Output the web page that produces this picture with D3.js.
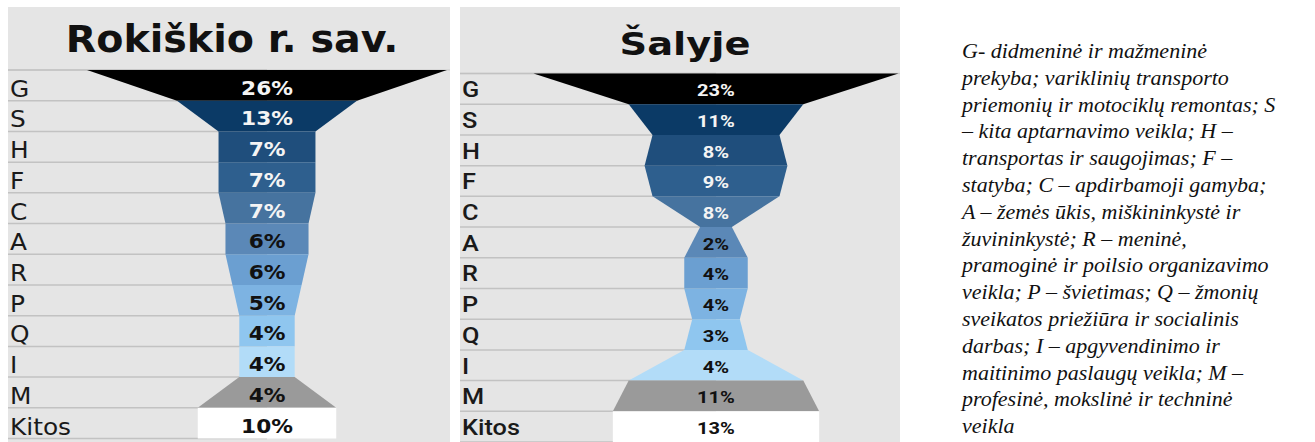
<!DOCTYPE html>
<html>
<head>
<meta charset="utf-8">
<script src="https://cdn.jsdelivr.net/npm/d3@7"></script>
<style>
  html, body { margin: 0; padding: 0; background: #fff; }
  svg { display: block; }
</style>
</head>
<body>
<svg id="chart" width="1315" height="442"></svg>
<script>

// sector codes, top to bottom
var categories = ["G", "S", "H", "F", "C", "A", "R", "P", "Q", "I", "M", "Kitos"];

// shares in %
var rokiskisValues = [26, 13, 7, 7, 7, 6, 6, 5, 4, 4, 4, 10];
var salyjeValues   = [23, 11, 8, 9, 8, 2, 4, 4, 3, 4, 11, 13];

var panelTitles = ["Rokiškio r. sav.", "Šalyje"];

// legend text, as it is wrapped in the picture
var legendLines = [
  "G- didmeninė ir mažmeninė",
  "prekyba; variklinių transporto",
  "priemonių ir motociklų remontas; S",
  "– kita aptarnavimo veikla; H –",
  "transportas ir saugojimas; F –",
  "statyba; C – apdirbamoji gamyba;",
  "A – žemės ūkis, miškininkystė ir",
  "žuvininkystė; R – meninė,",
  "pramoginė ir poilsio organizavimo",
  "veikla; P – švietimas; Q – žmonių",
  "sveikatos priežiūra ir socialinis",
  "darbas; I – apgyvendinimo ir",
  "maitinimo paslaugų veikla; M –",
  "profesinė, mokslinė ir techninė",
  "veikla"
];

var rowColors = ["#000000", "#0b3a66", "#1f4e7c", "#2e5f8e", "#46739f", "#5b88b7",
                 "#6b9fd1", "#7db3e2", "#8fc6ef", "#b2dcf8", "#9a9a9a", "#ffffff"];

var svg = d3.select("#chart");

function drawFunnel(cfg){
  var g = svg.append("g");
  var values = cfg.values;

  g.append("rect")
    .attr("x", cfg.x0).attr("y", 7)
    .attr("width", cfg.x1 - cfg.x0).attr("height", 442 - 7)
    .attr("fill", "#e5e5e5");

  var y = d3.scaleBand().domain(categories).range([cfg.top, cfg.bottom]).paddingInner(0);
  var w = d3.scaleLinear().domain([0, d3.max(values)]).range([0, cfg.maxW]);
  var rowH = y.bandwidth();

  // row rules, only up to the middle like the original
  var bounds = categories.map(function(c){ return y(c); }).concat([cfg.bottom]);
  g.append("line")
    .attr("x1", cfg.x0).attr("x2", cfg.x1)
    .attr("y1", cfg.top).attr("y2", cfg.top)
    .attr("stroke", "#d2d2d2").attr("stroke-width", 1.5);
  g.selectAll("line.rule").data(bounds).enter()
    .append("line")
    .attr("class", "rule")
    .attr("x1", cfg.x0).attr("x2", cfg.cx)
    .attr("y1", function(d){ return d; }).attr("y2", function(d){ return d; })
    .attr("stroke", "#c2c2c2").attr("stroke-width", 1.5);

  // each row: top width = own value, bottom width = next value
  g.selectAll("polygon.seg").data(values).enter()
    .append("polygon")
    .attr("class", "seg")
    .attr("fill", function(d, i){ return rowColors[i]; })
    .attr("points", function(d, i){
      var t = y(categories[i]), b = t + rowH;
      var wt = w(d) / 2;
      var wb = (i < values.length - 1 ? w(values[i + 1]) : w(d)) / 2;
      return [[cfg.cx - wt, t], [cfg.cx + wt, t], [cfg.cx + wb, b], [cfg.cx - wb, b]].join(" ");
    });

  g.selectAll("text.cat").data(categories).enter()
    .append("text")
    .attr("class", "cat")
    .attr("transform", function(d){
      return "translate(" + (cfg.x0 + cfg.labelDx) + "," + (y(d) + rowH - cfg.labelUp) + ") scale(" + cfg.sx + ",1)";
    })
    .attr("font-family", cfg.labelFont)
    .attr("font-weight", cfg.labelWeight)
    .attr("font-size", cfg.labelSize)
    .attr("fill", "#1a1a1a")
    .text(function(d){ return d; });

  g.selectAll("text.pct").data(values).enter()
    .append("text")
    .attr("class", "pct")
    .attr("transform", function(d, i){
      return "translate(" + cfg.cx + "," + (y(categories[i]) + rowH - cfg.pctUp) + ") scale(" + cfg.pctSx + ",1)";
    })
    .attr("text-anchor", "middle")
    .attr("font-family", cfg.pctFont)
    .attr("font-weight", "bold")
    .attr("font-size", cfg.pctSize)
    .attr("fill", function(d, i){ return i < 5 ? "#f4f4f4" : "#111"; })
    .text(function(d){ return d + "%"; });

  g.append("text")
    .attr("transform", "translate(" + cfg.titleX + "," + cfg.titleY + ") scale(" + cfg.titleSx + ",1)")
    .attr("text-anchor", "middle")
    .attr("font-family", cfg.titleFont)
    .attr("font-weight", "bold")
    .attr("font-size", cfg.titleSize)
    .attr("fill", "#111")
    .text(cfg.title);
}

drawFunnel({
  values: rokiskisValues, title: panelTitles[0],
  x0: 8, x1: 450, top: 70, bottom: 438.5, cx: 267, maxW: 360,
  sx: 1.08, labelDx: 2, labelUp: 4, labelFont: "DejaVu Sans", labelWeight: "normal", labelSize: 23,
  pctUp: 6, pctFont: "DejaVu Sans", pctSize: 19, pctSx: 1.14,
  titleX: 232, titleY: 52, titleSx: 1.07, titleFont: "DejaVu Sans", titleSize: 37
});

drawFunnel({
  values: salyjeValues, title: panelTitles[1],
  x0: 460, x1: 900, top: 73.5, bottom: 442, cx: 716, maxW: 365,
  sx: 1.15, labelDx: 2, labelUp: 7, labelFont: "Roboto", labelWeight: 500, labelSize: 22,
  pctUp: 8, pctFont: "Roboto", pctSize: 17, pctSx: 1.18,
  titleX: 685, titleY: 55, titleSx: 1.2, titleFont: "DejaVu Sans", titleSize: 32
});

svg.append("g")
  .selectAll("text").data(legendLines).enter()
  .append("text")
  .attr("x", 962)
  .attr("y", function(d, i){ return 58 + i * 26.8; })
  .attr("font-family", "Liberation Serif")
  .attr("font-style", "italic")
  .attr("font-size", 22)
  .attr("fill", "#111")
  .text(function(d){ return d; });

</script>
</body>
</html>
